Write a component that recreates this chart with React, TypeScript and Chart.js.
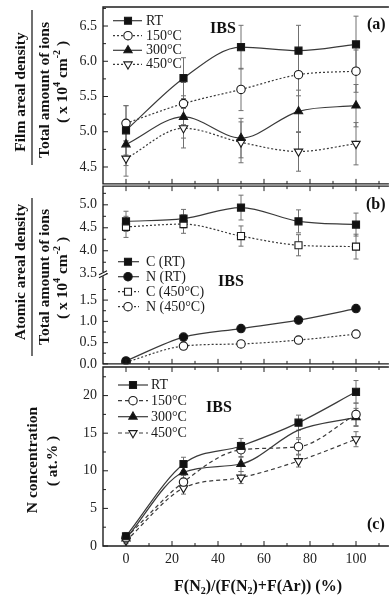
import React, { useEffect, useRef } from 'react';
import { Chart, registerables } from 'chart.js';

Chart.register(...registerables);

const FONT = '"Liberation Serif", "Times New Roman", Times, serif';

// ---------- shared x ----------
const X_VALUES = [0, 25, 50, 75, 100];
const X_MIN = -10;
const X_MAX = 113;
const X_MAJOR = [0, 20, 40, 60, 80, 100];
const X_MINOR = [10, 30, 50, 70, 90, 110];

// ---------- panel (a) ----------
const A_RT = [5.02, 5.76, 6.2, 6.15, 6.24];
const A_150 = [5.12, 5.4, 5.6, 5.81, 5.86];
const A_300 = [4.82, 5.21, 4.91, 5.29, 5.37];
const A_450 = [4.62, 5.05, 4.85, 4.72, 4.83];
const A_RT_ERR = [0.35, 0.29, 0.31, 0.36, 0.4];
const A_150_ERR = [0.25, 0.3, 0.3, 0.3, 0.3];
const A_300_ERR = [0.3, 0.3, 0.28, 0.3, 0.3];
const A_450_ERR = [0.25, 0.28, 0.29, 0.28, 0.3];
const A_Y_TICKS = [4.5, 5.0, 5.5, 6.0, 6.5];
const A_Y_MINOR = [4.75, 5.25, 5.75, 6.25, 6.75];

// ---------- panel (b) (broken axis) ----------
const B_C_RT = [4.64, 4.7, 4.94, 4.64, 4.57];
const B_N_RT = [0.07, 0.63, 0.83, 1.03, 1.3];
const B_C_450 = [4.52, 4.58, 4.32, 4.12, 4.09];
const B_N_450 = [0.04, 0.42, 0.47, 0.56, 0.7];
const B_C_RT_ERR = [0.22, 0.2, 0.27, 0.25, 0.25];
const B_N_RT_ERR = [0.04, 0.04, 0.04, 0.04, 0.04];
const B_C_450_ERR = [0.23, 0.2, 0.22, 0.23, 0.27];
const B_N_450_ERR = [0.05, 0.05, 0.05, 0.05, 0.05];
const B_LOWER_TICKS = [0, 0.5, 1.0, 1.5];
const B_UPPER_TICKS = [3.5, 4.0, 4.5, 5.0];
const B_LOWER_MINOR = [0.25, 0.75, 1.25, 1.75];
const B_UPPER_MINOR = [3.75, 4.25, 4.75, 5.25];
const B_BREAK = 3.5;

// ---------- panel (c) ----------
const C_RT = [1.3, 10.9, 13.3, 16.4, 20.5];
const C_150 = [1.1, 8.5, 12.8, 13.2, 17.5];
const C_300 = [1.0, 9.8, 10.9, 15.4, 17.1];
const C_450 = [0.7, 7.7, 9.1, 11.3, 14.2];
const C_RT_ERR = [0.5, 0.9, 1.0, 1.0, 1.5];
const C_150_ERR = [0.5, 0.9, 1.0, 1.0, 1.5];
const C_300_ERR = [0.5, 0.9, 1.0, 1.0, 1.2];
const C_450_ERR = [0.4, 0.8, 0.8, 0.8, 1.0];
const C_Y_TICKS = [0, 5, 10, 15, 20];
const C_Y_MINOR = [2.5, 7.5, 12.5, 17.5, 22.5];

type Marker = 'square' | 'circle' | 'triangle' | 'down';
interface SeriesDef {
  label: string;
  values: number[];
  errors: number[];
  marker: Marker;
  filled: boolean;
  dash: number[];
  hidden?: number[];
}
interface Run { t: string; sup?: boolean; sub?: boolean }
interface TitleDef { runs: Run[]; x: number; y: number; size: number; rot: boolean }
interface TextDef { t: string; x: number; y: number; size: number; bold: boolean; align: CanvasTextAlign }
interface PanelCfg {
  top: number;
  height: number;
  padTop: number;
  padBottom: number;
  yMin: number;
  yMax: number;
  yMajor: number[];
  yLabels: string[];
  yMinor: number[];
  series: SeriesDef[];
  map: (v: number) => number;
  topTicks: boolean;
  showX: boolean;
  legend: { x1: number; x2: number; mx: number; tx: number; ys: number[]; size: number };
  texts: TextDef[];
  titles: TitleDef[];
  frac?: { x: number; y1: number; y2: number };
  breakAt?: number;
}

const mapB = (v: number) => (v >= 2.5 ? 2.12 + (v - 3.5) * 1.08 : v);
const ident = (v: number) => v;

const X10: Run[] = [{ t: '( x 10' }, { t: '4', sup: true }, { t: ' cm' }, { t: '-2', sup: true }, { t: ' )' }];
const XTITLE: Run[] = [
  { t: 'F(N' }, { t: '2', sub: true }, { t: ')/(F(N' }, { t: '2', sub: true }, { t: ')+F(Ar)) (%)' },
];

function buildDataset(s: SeriesDef, map: (v: number) => number) {
  const radius = s.marker === 'square' ? 5 : s.marker === 'circle' ? 4.2 : 4.8;
  return {
    label: s.label,
    data: X_VALUES.map((x, i) => ({ x, y: map(s.values[i]) })),
    errBars: X_VALUES.map((x, i) => ({
      x,
      lo: map(s.values[i] - s.errors[i]),
      hi: map(s.values[i] + s.errors[i]),
    })),
    borderColor: '#3a3a3a',
    borderWidth: 1.2,
    borderDash: s.dash,
    cubicInterpolationMode: 'monotone',
    tension: 0.4,
    fill: false,
    pointStyle: s.marker === 'square' ? 'rect' : s.marker === 'circle' ? 'circle' : 'triangle',
    rotation: s.marker === 'down' ? 180 : 0,
    pointRadius: X_VALUES.map((_, i) => (s.hidden && s.hidden.includes(i) ? 0 : radius)),
    pointBackgroundColor: s.filled ? '#111' : '#fff',
    pointBorderColor: '#1a1a1a',
    pointBorderWidth: 1.1,
  };
}

function drawMarker(ctx: CanvasRenderingContext2D, m: Marker, filled: boolean, x: number, y: number) {
  ctx.save();
  ctx.setLineDash([]);
  ctx.beginPath();
  if (m === 'square') {
    const s = 3.5;
    ctx.rect(x - s, y - s, 2 * s, 2 * s);
  } else if (m === 'circle') {
    ctx.arc(x, y, 4.2, 0, Math.PI * 2);
  } else {
    const r = 4.8;
    const dir = m === 'triangle' ? -1 : 1;
    ctx.moveTo(x, y + dir * r);
    ctx.lineTo(x + r * 0.866, y - dir * r * 0.5);
    ctx.lineTo(x - r * 0.866, y - dir * r * 0.5);
    ctx.closePath();
  }
  ctx.fillStyle = filled ? '#111' : '#fff';
  ctx.fill();
  ctx.lineWidth = 1.1;
  ctx.strokeStyle = '#1a1a1a';
  ctx.stroke();
  ctx.restore();
}

function drawRich(ctx: CanvasRenderingContext2D, runs: Run[], cx: number, cy: number, size: number, rot: boolean) {
  ctx.save();
  ctx.translate(cx, cy);
  if (rot) ctx.rotate(-Math.PI / 2);
  const fontFor = (r: Run) => `bold ${r.sup || r.sub ? Math.round(size * 0.65) : size}px ${FONT}`;
  let w = 0;
  runs.forEach((r) => {
    ctx.font = fontFor(r);
    w += ctx.measureText(r.t).width;
  });
  let x = -w / 2;
  ctx.textBaseline = 'middle';
  ctx.textAlign = 'left';
  ctx.fillStyle = '#111';
  runs.forEach((r) => {
    ctx.font = fontFor(r);
    const dy = r.sup ? -size * 0.38 : r.sub ? size * 0.3 : 0;
    ctx.fillText(r.t, x, dy);
    x += ctx.measureText(r.t).width;
  });
  ctx.restore();
}

function panelPlugin(p: PanelCfg) {
  const off = p.top;
  return {
    id: 'panelDecor',
    beforeDatasetsDraw(chart: any) {
      const ctx: CanvasRenderingContext2D = chart.ctx;
      const xs = chart.scales.x;
      const ys = chart.scales.y;
      ctx.save();
      ctx.strokeStyle = '#707070';
      ctx.lineWidth = 1;
      chart.data.datasets.forEach((ds: any) => {
        ds.errBars.forEach((e: any) => {
          const px = xs.getPixelForValue(e.x);
          const a = ys.getPixelForValue(e.lo);
          const b = ys.getPixelForValue(e.hi);
          ctx.beginPath();
          ctx.moveTo(px, a);
          ctx.lineTo(px, b);
          ctx.moveTo(px - 2.5, a);
          ctx.lineTo(px + 2.5, a);
          ctx.moveTo(px - 2.5, b);
          ctx.lineTo(px + 2.5, b);
          ctx.stroke();
        });
      });
      ctx.restore();
    },
    afterDraw(chart: any) {
      const ctx: CanvasRenderingContext2D = chart.ctx;
      const { left, right, top, bottom } = chart.chartArea;
      const xs = chart.scales.x;
      const ys = chart.scales.y;
      ctx.save();
      ctx.setLineDash([]);
      ctx.strokeStyle = '#1e1e1e';
      ctx.lineWidth = 1.4;
      ctx.beginPath();
      ctx.moveTo(right + 3, top);
      ctx.lineTo(left, top);
      ctx.lineTo(left, bottom);
      ctx.lineTo(right + 3, bottom);
      ctx.stroke();

      ctx.lineWidth = 1;
      ctx.beginPath();
      p.yMajor.forEach((v) => {
        const y = ys.getPixelForValue(v);
        ctx.moveTo(left, y);
        ctx.lineTo(left + 5, y);
      });
      p.yMinor.forEach((v) => {
        const y = ys.getPixelForValue(v);
        if (y > top + 1 && y < bottom - 1) {
          ctx.moveTo(left, y);
          ctx.lineTo(left + 3, y);
        }
      });
      X_MAJOR.forEach((v) => {
        const x = xs.getPixelForValue(v);
        ctx.moveTo(x, bottom);
        ctx.lineTo(x, bottom - 5);
        if (p.topTicks) {
          ctx.moveTo(x, top);
          ctx.lineTo(x, top + 5);
        }
      });
      X_MINOR.forEach((v) => {
        const x = xs.getPixelForValue(v);
        ctx.moveTo(x, bottom);
        ctx.lineTo(x, bottom - 3);
        if (p.topTicks) {
          ctx.moveTo(x, top);
          ctx.lineTo(x, top + 3);
        }
      });
      ctx.stroke();

      if (p.breakAt !== undefined) {
        const y = ys.getPixelForValue(p.breakAt);
        ctx.fillStyle = '#fff';
        ctx.fillRect(left - 3, y - 1.5, 6, 4);
        ctx.beginPath();
        ctx.moveTo(left - 4, y + 1);
        ctx.lineTo(left + 4, y - 3);
        ctx.moveTo(left - 4, y + 4);
        ctx.lineTo(left + 4, y);
        ctx.lineWidth = 1.2;
        ctx.stroke();
      }

      // legend
      const L = p.legend;
      p.series.forEach((s, i) => {
        const y = L.ys[i] - off;
        ctx.save();
        ctx.strokeStyle = '#3a3a3a';
        ctx.lineWidth = 1.2;
        ctx.setLineDash(s.dash);
        ctx.beginPath();
        ctx.moveTo(L.x1, y);
        ctx.lineTo(L.x2, y);
        ctx.stroke();
        ctx.restore();
        drawMarker(ctx, s.marker, s.filled, L.mx, y);
        ctx.font = `${L.size}px ${FONT}`;
        ctx.fillStyle = '#1a1a1a';
        ctx.textAlign = 'left';
        ctx.textBaseline = 'middle';
        ctx.fillText(s.label, L.tx, y + 0.5);
      });

      p.texts.forEach((t) => {
        ctx.font = `${t.bold ? 'bold ' : ''}${t.size}px ${FONT}`;
        ctx.fillStyle = '#111';
        ctx.textAlign = t.align;
        ctx.textBaseline = 'middle';
        ctx.fillText(t.t, t.x, t.y - off);
      });

      p.titles.forEach((t) => drawRich(ctx, t.runs, t.x, t.y - off, t.size, t.rot));

      if (p.frac) {
        ctx.strokeStyle = '#111';
        ctx.lineWidth = 1.2;
        ctx.beginPath();
        ctx.moveTo(p.frac.x, p.frac.y1 - off);
        ctx.lineTo(p.frac.x, p.frac.y2 - off);
        ctx.stroke();
      }
      ctx.restore();
    },
  };
}

function buildConfig(cfg: PanelCfg): any {
  return {
    type: 'line',
    data: { datasets: cfg.series.map((s) => buildDataset(s, cfg.map)) },
    options: {
      responsive: false,
      animation: false,
      devicePixelRatio: 1,
      events: [],
      layout: { padding: { left: 0, right: 0, top: cfg.padTop, bottom: cfg.padBottom } },
      plugins: { legend: { display: false }, tooltip: { enabled: false } },
      scales: {
        x: {
          type: 'linear',
          min: X_MIN,
          max: X_MAX,
          display: cfg.showX,
          grid: { display: false, drawTicks: false },
          border: { display: false },
          afterBuildTicks: (s: any) => {
            s.ticks = X_MAJOR.map((v) => ({ value: v }));
          },
          afterFit: (s: any) => {
            if (cfg.showX) s.height = 53;
            s.paddingLeft = 0;
            s.paddingRight = 0;
            s.paddingTop = 0;
            s.paddingBottom = 0;
          },
          ticks: {
            color: '#222',
            font: { family: FONT, size: 14 },
            padding: 5,
            autoSkip: false,
            maxRotation: 0,
            callback: (v: any) => String(v),
          },
        },
        y: {
          type: 'linear',
          min: cfg.yMin,
          max: cfg.yMax,
          grid: { display: false, drawTicks: false },
          border: { display: false },
          afterBuildTicks: (s: any) => {
            s.ticks = cfg.yMajor.map((v) => ({ value: v }));
          },
          afterFit: (s: any) => {
            s.width = 103;
            s.paddingTop = 0;
            s.paddingBottom = 0;
            s.paddingLeft = 0;
            s.paddingRight = 0;
          },
          ticks: {
            color: '#222',
            font: { family: FONT, size: 14 },
            padding: 6,
            autoSkip: false,
            callback: (_v: any, i: number) => cfg.yLabels[i],
          },
        },
      },
    },
    plugins: [panelPlugin(cfg)],
  };
}

const PANEL_A: PanelCfg = {
  top: 0,
  height: 190,
  padTop: 7,
  padBottom: 4,
  yMin: 4.26,
  yMax: 6.77,
  yMajor: A_Y_TICKS,
  yLabels: A_Y_TICKS.map((v) => v.toFixed(1)),
  yMinor: A_Y_MINOR,
  map: ident,
  topTicks: false,
  showX: false,
  series: [
    { label: 'RT', values: A_RT, errors: A_RT_ERR, marker: 'square', filled: true, dash: [] },
    { label: '150°C', values: A_150, errors: A_150_ERR, marker: 'circle', filled: false, dash: [2, 2] },
    { label: '300°C', values: A_300, errors: A_300_ERR, marker: 'triangle', filled: true, dash: [] },
    { label: '450°C', values: A_450, errors: A_450_ERR, marker: 'down', filled: false, dash: [2, 2] },
  ],
  legend: { x1: 113, x2: 142, mx: 128, tx: 146, ys: [20.7, 35.7, 50.3, 64.3], size: 14 },
  texts: [
    { t: 'IBS', x: 223, y: 29, size: 16, bold: true, align: 'center' },
    { t: '(a)', x: 367, y: 25, size: 16, bold: true, align: 'left' },
  ],
  titles: [
    { runs: [{ t: 'Film areal density' }], x: 21, y: 92, size: 15.5, rot: true },
    { runs: [{ t: 'Total amount of ions' }], x: 45, y: 90, size: 15.5, rot: true },
    { runs: X10, x: 63, y: 82, size: 15.5, rot: true },
  ],
  frac: { x: 32, y1: 10, y2: 165 },
};

const PANEL_B: PanelCfg = {
  top: 180,
  height: 190,
  padTop: 6,
  padBottom: 3,
  yMin: 0,
  yMax: 4.18,
  yMajor: [...B_LOWER_TICKS, ...B_UPPER_TICKS.map(mapB)],
  yLabels: [...B_LOWER_TICKS, ...B_UPPER_TICKS].map((v) => v.toFixed(1)),
  yMinor: [...B_LOWER_MINOR, ...B_UPPER_MINOR.map(mapB)],
  map: mapB,
  topTicks: true,
  showX: false,
  breakAt: mapB(B_BREAK),
  series: [
    { label: 'C (RT)', values: B_C_RT, errors: B_C_RT_ERR, marker: 'square', filled: true, dash: [] },
    { label: 'N (RT)', values: B_N_RT, errors: B_N_RT_ERR, marker: 'circle', filled: true, dash: [] },
    { label: 'C (450°C)', values: B_C_450, errors: B_C_450_ERR, marker: 'square', filled: false, dash: [2, 2] },
    { label: 'N (450°C)', values: B_N_450, errors: B_N_450_ERR, marker: 'circle', filled: false, dash: [2, 2] },
  ],
  legend: { x1: 118, x2: 139, mx: 128, tx: 146, ys: [261.7, 276.7, 291.7, 306.7], size: 14 },
  texts: [
    { t: 'IBS', x: 231, y: 282, size: 16, bold: true, align: 'center' },
    { t: '(b)', x: 366, y: 205, size: 16, bold: true, align: 'left' },
  ],
  titles: [
    { runs: [{ t: 'Atomic areal density' }], x: 21, y: 272, size: 15.5, rot: true },
    { runs: [{ t: 'Total amount of ions' }], x: 45, y: 277, size: 15.5, rot: true },
    { runs: X10, x: 63, y: 278, size: 15.5, rot: true },
  ],
  frac: { x: 32, y1: 198, y2: 356 },
};

const PANEL_C: PanelCfg = {
  top: 360,
  height: 239,
  padTop: 7,
  padBottom: 0,
  yMin: 0,
  yMax: 23.8,
  yMajor: C_Y_TICKS,
  yLabels: C_Y_TICKS.map((v) => String(v)),
  yMinor: C_Y_MINOR,
  map: ident,
  topTicks: true,
  showX: true,
  series: [
    { label: 'RT', values: C_RT, errors: C_RT_ERR, marker: 'square', filled: true, dash: [] },
    { label: '150°C', values: C_150, errors: C_150_ERR, marker: 'circle', filled: false, dash: [4, 3] },
    { label: '300°C', values: C_300, errors: C_300_ERR, marker: 'triangle', filled: true, dash: [], hidden: [3] },
    { label: '450°C', values: C_450, errors: C_450_ERR, marker: 'down', filled: false, dash: [4, 3] },
  ],
  legend: { x1: 118, x2: 148, mx: 133, tx: 151, ys: [385, 400.7, 416.7, 433], size: 14 },
  texts: [
    { t: 'IBS', x: 219, y: 408, size: 16, bold: true, align: 'center' },
    { t: '(c)', x: 367, y: 525, size: 16, bold: true, align: 'left' },
  ],
  titles: [
    { runs: [{ t: 'N concentration' }], x: 33, y: 460, size: 15.5, rot: true },
    { runs: [{ t: '( at.% )' }], x: 53, y: 461, size: 15.5, rot: true },
    { runs: XTITLE, x: 258, y: 587, size: 16, rot: false },
  ],
};

function Panel({ cfg }: { cfg: PanelCfg }) {
  const ref = useRef<HTMLCanvasElement>(null);
  useEffect(() => {
    if (!ref.current) return;
    const chart = new Chart(ref.current, buildConfig(cfg));
    return () => chart.destroy();
  }, [cfg]);
  return (
    <canvas
      ref={ref}
      width={392}
      height={cfg.height}
      style={{ position: 'absolute', left: 0, top: cfg.top, width: 392, height: cfg.height }}
    />
  );
}

export default function App() {
  return (
    <div style={{ position: 'fixed', left: 0, top: 0, width: 392, height: 599, background: '#fff', overflow: 'hidden' }}>
      <Panel cfg={PANEL_A} />
      <Panel cfg={PANEL_B} />
      <Panel cfg={PANEL_C} />
    </div>
  );
}
